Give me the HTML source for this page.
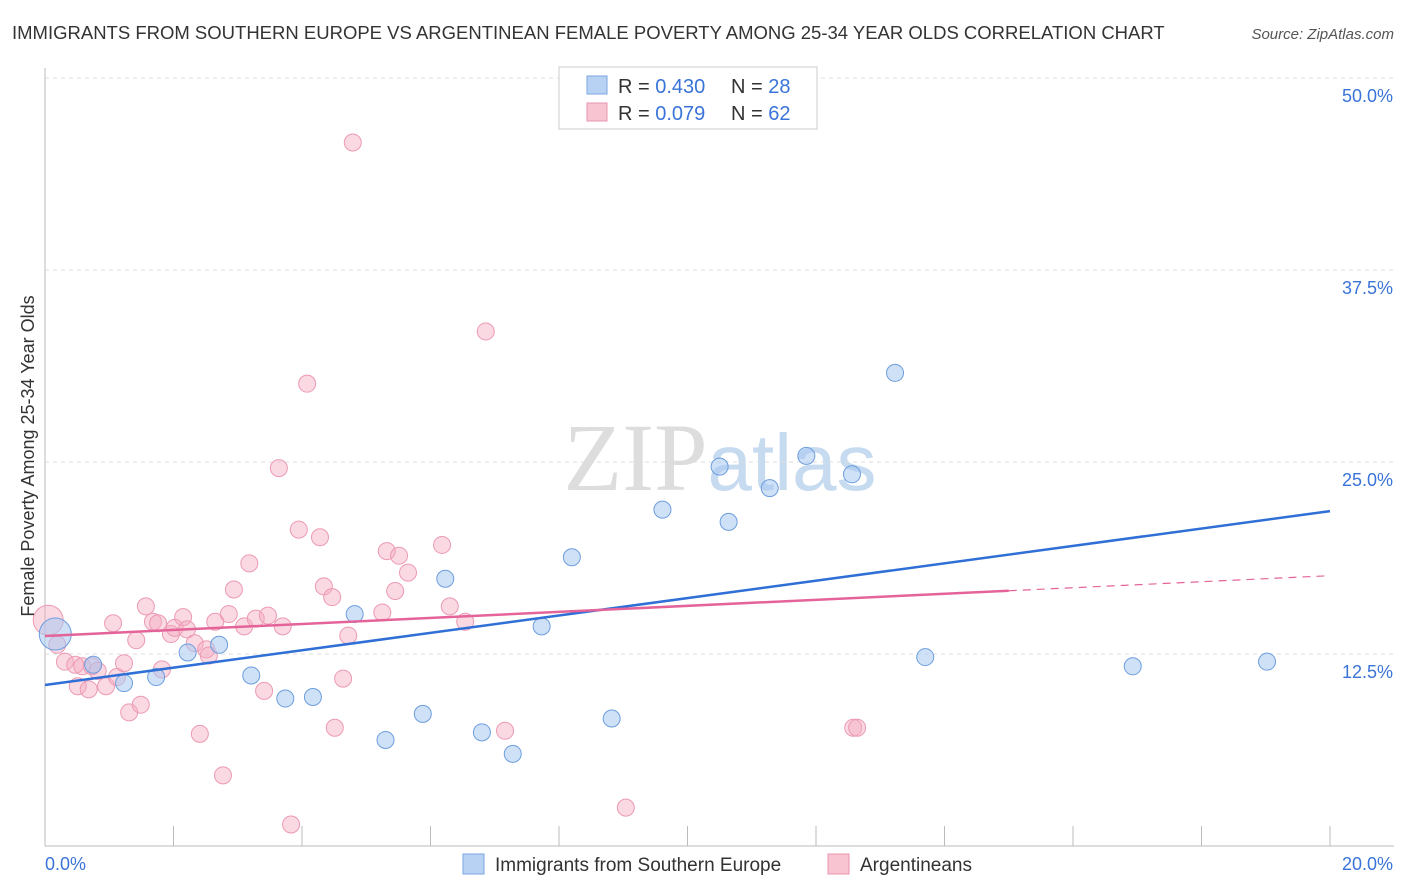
<!DOCTYPE html>
<html><head><meta charset="utf-8"><style>
body{margin:0;background:#fff;font-family:"Liberation Sans",sans-serif;}
svg{display:block}
</style></head><body>
<svg id="chart" width="1406" height="892" viewBox="0 0 1406 892">
<text x="12" y="39" font-size="18.5" fill="#333">IMMIGRANTS FROM SOUTHERN EUROPE VS ARGENTINEAN FEMALE POVERTY AMONG 25-34 YEAR OLDS CORRELATION CHART</text>
<text x="1394" y="39" font-size="15" fill="#555" font-style="italic" text-anchor="end">Source: ZipAtlas.com</text>
<text x="720" y="490" font-size="96" fill="#ddd" text-anchor="middle" font-family="Liberation Serif,serif">ZIP<tspan fill="#c6daf0" font-family="Liberation Sans,sans-serif" font-size="80">atlas</tspan></text>
<g id="grid"></g>
<g id="axes"></g>
<g id="marks"></g>
<text transform="translate(34,456) rotate(-90)" font-size="18" fill="#333" text-anchor="middle">Female Poverty Among 25-34 Year Olds</text>
<g>
<rect x="559" y="67" width="258" height="62" fill="#fff" stroke="#ccc"/>
<rect x="587" y="76" width="20" height="18" fill="#b8d2f4" stroke="#7aa6e0"/>
<text x="618" y="93" font-size="20" fill="#333">R = <tspan fill="#3a74d8">0.430</tspan></text>
<text x="731" y="93" font-size="20" fill="#333">N = <tspan fill="#3a74d8">28</tspan></text>
<rect x="587" y="103" width="20" height="18" fill="#f8c4d2" stroke="#e896ae"/>
<text x="618" y="120" font-size="20" fill="#333">R = <tspan fill="#3a74d8">0.079</tspan></text>
<text x="731" y="120" font-size="20" fill="#333">N = <tspan fill="#3a74d8">62</tspan></text>
</g>
<g>
<rect x="463" y="854" width="21" height="20" fill="#b8d2f4" stroke="#7aa6e0"/>
<text x="495" y="871" font-size="19" fill="#333">Immigrants from Southern Europe</text>
<rect x="828" y="854" width="21" height="20" fill="#f8c4d2" stroke="#e896ae"/>
<text x="860" y="871" font-size="19" fill="#333">Argentineans</text>
</g>
</svg>
<script>
const yTicks=[12.5,25,37.5,50];
const yTickLabels=["12.5%","25.0%","37.5%","50.0%"];
const xTicks=[0,2,4,6,8,10,12,14,16,18,20];
const blueX=[0.16,0.75,1.23,1.73,2.22,2.71,3.21,3.74,4.17,4.82,5.30,5.88,6.23,6.80,7.28,7.73,8.20,8.82,9.61,10.50,10.64,11.28,11.85,12.56,13.23,13.70,16.93,19.02];
const blueY=[13.8,11.8,10.6,11.0,12.6,13.1,11.1,9.6,9.7,15.1,6.9,8.6,17.4,7.4,6.0,14.3,18.8,8.3,21.9,24.7,21.1,23.3,25.4,24.2,30.8,12.3,11.7,12.0];
const pinkX=[0.05,0.19,0.31,0.47,0.58,0.73,0.82,0.51,0.68,0.95,1.06,1.12,1.23,1.31,1.42,1.49,1.57,1.68,1.76,1.82,1.96,2.02,2.15,2.21,2.33,2.41,2.51,2.55,2.65,2.77,2.86,2.94,3.10,3.18,3.28,3.41,3.47,3.64,3.70,3.83,3.95,4.08,4.28,4.34,4.47,4.51,4.64,4.72,4.79,5.25,5.32,5.45,5.51,5.65,6.18,6.30,6.54,6.86,7.16,9.04,12.58,12.64];
const pinkY=[14.7,13.1,12.0,11.8,11.7,11.7,11.4,10.4,10.2,10.4,14.5,11.0,11.9,8.7,13.4,9.2,15.6,14.6,14.5,11.5,13.8,14.2,14.9,14.1,13.2,7.3,12.8,12.4,14.6,4.6,15.1,16.7,14.3,18.4,14.8,10.1,15.0,24.6,14.3,1.4,20.6,30.1,20.1,16.9,16.2,7.7,10.9,13.7,45.8,15.2,19.2,16.6,18.9,17.8,19.6,15.6,14.6,33.5,7.5,2.5,7.7,7.7];
const blueTrend=[10.48,21.8];
const pinkTrend=[13.67,17.6];
const pinkSolidEnd=15;
const X=v=>45+v*64.25, Y=v=>846-v*15.36;
const NS="http://www.w3.org/2000/svg";
function mk(parent,tag,attrs){const e=document.createElementNS(NS,tag);for(const k in attrs)e.setAttribute(k,attrs[k]);document.getElementById(parent).appendChild(e);return e;}
yTicks.forEach((t,i)=>{
 const l=mk('grid','line',{x1:45,x2:1394,y1:Y(t),y2:Y(t),stroke:'#ddd','stroke-dasharray':'4,4'});
 
 
 const tx=mk('grid','text',{x:1393,y:Y(t)+24,'font-size':18,fill:'#3a74d8','text-anchor':'end'});
 tx.textContent=yTickLabels[i];
 
 
});
let a=mk('axes','line',{x1:45,x2:45,y1:68,y2:846,stroke:'#bbb'});


a=mk('axes','line',{x1:45,x2:1394,y1:846,y2:846,stroke:'#bbb'});


xTicks.forEach(t=>{const l=mk('axes','line',{x1:X(t),x2:X(t),y1:826,y2:846,stroke:'#bbb'});
 
 });
let t0=mk('axes','text',{x:45,y:870,'font-size':18,fill:'#3a74d8'});t0.textContent='0.0%';


let t1=mk('axes','text',{x:1393,y:870,'font-size':18,fill:'#3a74d8','text-anchor':'end'});t1.textContent='20.0%';


pinkX.forEach((x,i)=>{const c=mk('marks','circle',{cx:X(x),cy:Y(pinkY[i]),r:i==0?15:8.5,fill:'rgba(244,170,192,0.45)',stroke:'#ec9ab4','stroke-width':1});
 
 });
blueX.forEach((x,i)=>{const c=mk('marks','circle',{cx:X(x),cy:Y(blueY[i]),r:i==0?16:8.5,fill:'rgba(168,200,240,0.55)',stroke:'#6c9ede','stroke-width':1});
 
 });
let tl=mk('marks','line',{x1:X(0),y1:Y(blueTrend[0]),x2:X(20),y2:Y(blueTrend[1]),stroke:'#2f6fd6','stroke-width':2.5});


const pm=pinkTrend[0]+(pinkTrend[1]-pinkTrend[0])*pinkSolidEnd/20;
tl=mk('marks','line',{x1:X(0),y1:Y(pinkTrend[0]),x2:X(pinkSolidEnd),y2:Y(pm),stroke:'#e4649a','stroke-width':2.5});


tl=mk('marks','line',{x1:X(pinkSolidEnd),y1:Y(pm),x2:X(20),y2:Y(pinkTrend[1]),stroke:'#e4649a','stroke-width':1.2,'stroke-dasharray':'8,6'});


</script>
</body></html>
